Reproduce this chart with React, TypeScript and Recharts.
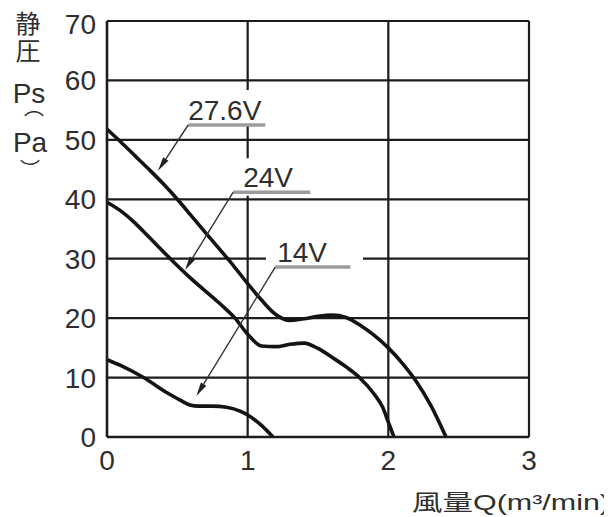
import React from 'react';
import {
  LineChart,
  Line,
  XAxis,
  YAxis,
  CartesianGrid,
  ReferenceLine,
  ReferenceArea,
  ReferenceDot,
} from 'recharts';

// 静圧-風量 特性
const FLOW_27_6V = [0, 0.1, 0.2, 0.3, 0.4, 0.5, 0.6, 0.7, 0.8, 0.9, 1.0, 1.1, 1.2, 1.3, 1.4, 1.5, 1.6, 1.7, 1.8, 1.9, 2.0, 2.1, 2.2, 2.3, 2.41];
const PRESSURE_27_6V = [51.8, 49.6, 47.3, 45.0, 42.6, 40.0, 37.2, 34.4, 31.6, 28.8, 25.8, 23.0, 20.6, 19.6, 19.9, 20.3, 20.5, 20.1, 18.8, 17.1, 15.0, 12.4, 9.3, 5.4, 0];

const FLOW_24V = [0, 0.1, 0.2, 0.3, 0.45, 0.6, 0.8, 0.91, 1.0, 1.1, 1.2, 1.3, 1.4, 1.5, 1.6, 1.7, 1.8, 1.9, 1.96, 2.0, 2.04];
const PRESSURE_24V = [39.5, 38.0, 36.0, 33.6, 30.0, 26.6, 22.5, 20.0, 17.3, 15.3, 15.2, 15.6, 15.8, 14.9, 13.4, 11.8, 9.9, 7.2, 5.0, 2.5, 0];

const FLOW_14V = [0, 0.1, 0.26, 0.43, 0.52, 0.59, 0.65, 0.75, 0.85, 0.95, 1.0, 1.1, 1.18];
const PRESSURE_14V = [13.0, 12.0, 10.0, 7.4, 6.2, 5.4, 5.2, 5.2, 5.0, 4.3, 3.7, 1.9, 0];

const X_TICKS = [0, 1, 2, 3];
const Y_TICKS = [0, 10, 20, 30, 40, 50, 60, 70];

// annotation labels, in data units
const CURVE_LABELS = ['27.6V', '24V', '14V'];
const LABEL_TEXT_AT = [[0.577, 53.3], [0.968, 42.1], [1.21, 29.4]];
const LABEL_UNDERLINE = [[0.577, 1.125, 52.5], [0.897, 1.445, 41.2], [1.196, 1.73, 28.6]];
const LABEL_ARROW = [[0.577, 52.5, 0.363, 44.8], [0.897, 41.2, 0.555, 28.1], [1.196, 28.6, 0.635, 6.9]];
const LABEL_MASK = [[0.555, 1.174, 52.5, 58.4], [0.93, 1.46, 40.6, 46.9], [1.13, 1.82, 28.8, 33.5]];

const toPoints = (qs: number[], ps: number[]) => qs.map((q, i) => ({ q, p: ps[i] }));

const SERIES = [
  { name: '27.6V', data: toPoints(FLOW_27_6V, PRESSURE_27_6V) },
  { name: '24V', data: toPoints(FLOW_24V, PRESSURE_24V) },
  { name: '14V', data: toPoints(FLOW_14V, PRESSURE_14V) },
];

const FONT = '"Liberation Sans", Arial, "Noto Sans CJK JP", sans-serif';
const TEXT = '#2e2e2e';

const ArrowShape = (props: any) => {
  const { x1, y1, x2, y2 } = props;
  const dx = x2 - x1;
  const dy = y2 - y1;
  const len = Math.sqrt(dx * dx + dy * dy) || 1;
  const ux = dx / len;
  const uy = dy / len;
  const hl = 14;
  const hw = 3.2;
  const bx = x2 - ux * hl;
  const by = y2 - uy * hl;
  const pts = `${x2},${y2} ${bx - uy * hw},${by + ux * hw} ${bx + uy * hw},${by - ux * hw}`;
  return (
    <g>
      <line x1={x1} y1={y1} x2={bx} y2={by} stroke="#333" strokeWidth={1.4} />
      <polygon points={pts} fill="#222" />
    </g>
  );
};

const YLabel = (props: any) => {
  const { viewBox } = props;
  const x = viewBox.x;
  const y = viewBox.y;
  const common = { fill: TEXT, fontFamily: FONT, textAnchor: 'middle' as const, dominantBaseline: 'central' as const };
  return (
    <g>
      <text {...common} x={x + 11} y={y + 3} fontSize={25}>静</text>
      <text {...common} x={x + 11} y={y + 30} fontSize={25}>圧</text>
      <text {...common} x={x + 12} y={y + 72} fontSize={28}>Ps</text>
      <text {...common} x={x + 17} y={y + 87} fontSize={20}>︵</text>
      <text {...common} x={x + 13} y={y + 121} fontSize={28}>Pa</text>
      <text {...common} x={x + 13} y={y + 149} fontSize={20}>︶</text>
    </g>
  );
};

const XLabel = (props: any) => {
  const { viewBox } = props;
  return (
    <text
      x={viewBox.x + viewBox.width + 81}
      y={viewBox.y + 73}
      textAnchor="end"
      fontSize={22}
      fill={TEXT}
      fontFamily={FONT}
      textLength={198}
      lengthAdjust="spacingAndGlyphs"
    >
      風量Q(m³/min)
    </text>
  );
};

const App: React.FC = () => {
  return (
    <div style={{ width: 604, height: 509, fontFamily: FONT }}>
      <LineChart
        width={604}
        height={509}
        margin={{ top: 13, right: 83, left: 9, bottom: 40 }}
        style={{ overflow: 'visible' }}
      >
        <CartesianGrid stroke="#1c1c1c" strokeWidth={2.2} horizontal vertical />
        <XAxis
          dataKey="q"
          type="number"
          domain={[0, 3]}
          ticks={X_TICKS}
          height={40}
          tickSize={0}
          tickMargin={13}
          axisLine={{ stroke: '#1c1c1c', strokeWidth: 2.4 }}
          tickLine={false}
          tick={{ fill: TEXT, fontSize: 28, fontFamily: FONT }}
          allowDataOverflow
          label={<XLabel />}
        />
        <YAxis
          type="number"
          domain={[0, 70]}
          ticks={Y_TICKS}
          width={90}
          tickSize={0}
          tickMargin={11}
          axisLine={{ stroke: '#1c1c1c', strokeWidth: 2.4 }}
          tickLine={false}
          tick={{ fill: TEXT, fontSize: 28, fontFamily: FONT }}
          allowDataOverflow
          label={<YLabel />}
        />
        {LABEL_MASK.map(([xa, xb, ya, yb], i) => (
          <ReferenceArea
            key={`mask-${i}`}
            x1={xa}
            x2={xb}
            y1={ya}
            y2={yb}
            fill="#ffffff"
            fillOpacity={1}
            stroke="none"
            ifOverflow="visible"
          />
        ))}
        {SERIES.map((s) => (
          <Line
            key={s.name}
            data={s.data}
            dataKey="p"
            type="monotone"
            stroke="#141414"
            strokeWidth={3.6}
            dot={false}
            activeDot={false}
            isAnimationActive={false}
          />
        ))}
        {LABEL_UNDERLINE.map(([xa, xb, y], i) => (
          <ReferenceLine
            key={`ul-${i}`}
            segment={[{ x: xa, y }, { x: xb, y }]}
            stroke="#9c9c9c"
            strokeWidth={3.5}
            ifOverflow="visible"
          />
        ))}
        {LABEL_ARROW.map(([xa, ya, xb, yb], i) => (
          <ReferenceLine
            key={`ar-${i}`}
            segment={[{ x: xa, y: ya }, { x: xb, y: yb }]}
            ifOverflow="visible"
            shape={<ArrowShape />}
          />
        ))}
        {LABEL_TEXT_AT.map(([x, y], i) => (
          <ReferenceDot
            key={`lbl-${i}`}
            x={x}
            y={y}
            ifOverflow="visible"
            shape={(p: any) => (
              <text x={p.cx} y={p.cy} fontSize={28} fill={TEXT} fontFamily={FONT} textAnchor="start">
                {CURVE_LABELS[i]}
              </text>
            )}
          />
        ))}
      </LineChart>
    </div>
  );
};

export default App;
